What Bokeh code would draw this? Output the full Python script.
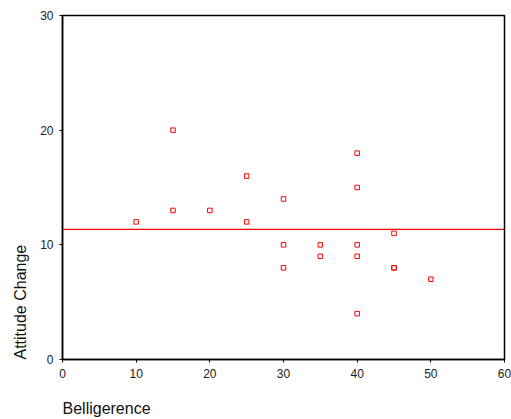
import numpy as np
from bokeh.plotting import figure
from bokeh.models import Span, Title, FixedTicker, Range1d
from bokeh.embed import file_html
from bokeh.resources import INLINE

belligerence = [10, 15, 15, 20, 25, 25, 30, 30, 30, 35, 35, 40, 40, 40, 40, 40, 45, 45, 45, 50]
attitude_change = [12, 20, 13, 13, 16, 12, 14, 10, 8, 10, 9, 18, 15, 10, 9, 4, 11, 8, 8, 7]
x_ticks = [0, 10, 20, 30, 40, 50, 60]
y_ticks = [0, 10, 20, 30]

FONT = "Liberation Sans"

p = figure(width=511, height=419, output_backend="svg", toolbar_location=None,
           x_range=Range1d(0, 60), y_range=Range1d(0, 30),
           min_border_left=62, min_border_right=7, min_border_top=15, min_border_bottom=60)
p.grid.visible = False
p.outline_line_color = "black"
p.outline_line_width = 1.5
p.background_fill_color = "white"
p.border_fill_color = "white"

for ax, ticks in ((p.xaxis, x_ticks), (p.yaxis, y_ticks)):
    ax.ticker = FixedTicker(ticks=ticks)
    ax.minor_tick_line_color = None
    ax.major_tick_out = 3
    ax.major_tick_in = 0
    ax.axis_line_color = "black"
    ax.axis_line_width = 1.5
    ax.major_tick_line_color = "black"
    ax.major_label_text_font = FONT
    ax.major_label_text_font_size = "12px"
    ax.major_label_text_color = "#222222"
    ax.major_label_standoff = 6

mean_y = float(np.mean(attitude_change))
p.add_layout(Span(location=mean_y, dimension="width", line_color="red", line_width=1.2))

p.scatter(belligerence, attitude_change, marker="square", size=4.5,
          fill_color=None, line_color="red", line_width=1)

p.add_layout(Title(text="\nBelligerence", align="left", standoff=0, text_font=FONT,
                   text_font_size="16px", text_font_style="normal", text_color="#111111"), "below")
p.add_layout(Title(text="Attitude Change", align="left", standoff=17, text_font=FONT,
                   text_font_size="16px", text_font_style="normal", text_color="#111111"), "left")

open("out.html", "w").write(file_html(p, INLINE))
